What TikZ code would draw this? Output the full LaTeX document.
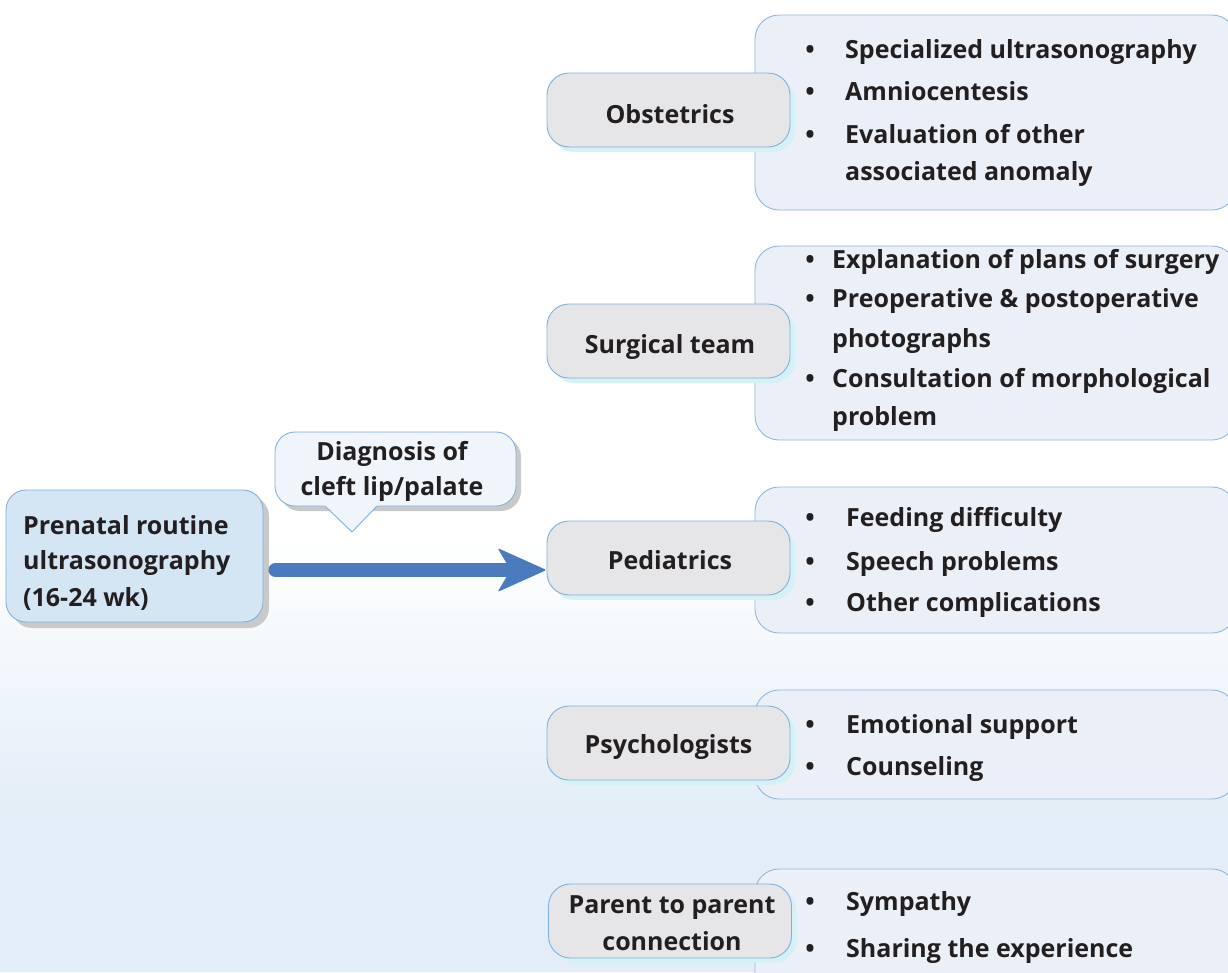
\documentclass[tikz,border=0pt]{standalone}
\usepackage{fontspec}
\setmainfont{Open Sans}
\usetikzlibrary{shadows}
\definecolor{txt}{HTML}{231F20}
\definecolor{bgblue}{HTML}{E2EDF7}
\definecolor{prefill}{HTML}{D4E5F3}
\definecolor{boxborder}{HTML}{7DB2E0}
\definecolor{calfill}{HTML}{EFF5FB}
\definecolor{catfill}{HTML}{E6E6E8}
\definecolor{catshadow}{HTML}{D4F2F5}
\definecolor{detfill}{HTML}{EBF0F8}
\definecolor{detborder}{HTML}{8DB9E3}
\definecolor{grayshadow}{HTML}{C9C9CA}
\definecolor{arrowblue}{HTML}{4A7BBF}
\newcommand\tf{\fontsize{25}{30}\selectfont\bfseries}
\begin{document}
\begin{tikzpicture}[x=1pt,y=-1pt,
  txtline/.style={anchor=base west,inner sep=0pt,text=txt,font=\tf},
  ctrline/.style={anchor=base,inner sep=0pt,text=txt,font=\tf},
  bul/.style={anchor=base,inner sep=0pt,text=txt,font=\tf},
  detbox/.style={draw=detborder,line width=0.9pt,fill=detfill,rounded corners=24pt,
    inner sep=0pt},
  catbox/.style={draw=boxborder,line width=0.9pt,fill=catfill,rounded corners=22pt,
    inner sep=0pt,minimum width=243pt,minimum height=74pt,
    drop shadow={fill=catshadow,opacity=1,shadow xshift=5pt,shadow yshift=-5pt}},
  prebox/.style={draw=boxborder,line width=0.9pt,fill=prefill,rounded corners=20pt,
    inner sep=0pt,minimum width=257pt,minimum height=132pt,
    drop shadow={fill=grayshadow,opacity=1,shadow xshift=6pt,shadow yshift=-6pt}},
  calbox/.style={draw=boxborder,line width=0.9pt,fill=calfill,rounded corners=20pt,
    inner sep=0pt,minimum width=241pt,minimum height=74pt,
    drop shadow={fill=grayshadow,opacity=1,shadow xshift=5pt,shadow yshift=-5pt}},
]
\useasboundingbox (0,0) rectangle (1228,972);
\clip (0,0) rectangle (1228,972);
% background
\fill[white] (0,0) rectangle (1228,540);
\shade[top color=white,bottom color=bgblue] (0,539) rectangle (1228,820);
\fill[bgblue] (0,819) rectangle (1228,972);

% detail boxes
\node[detbox,minimum width=481pt,minimum height=195pt] (dobs) at (995.5,112.5) {};
\node[detbox,minimum width=481pt,minimum height=194pt] (dsur) at (995.5,343) {};
\node[detbox,minimum width=481pt,minimum height=146pt] (dped) at (995.5,560) {};
\node[detbox,minimum width=481pt,minimum height=109pt] (dpsy) at (995.5,744.5) {};
\node[detbox,minimum width=481pt,minimum height=130pt] (dpar) at (995.5,934) {};

% obstetrics list
\node[bul] at (810,58) {•};
\node[txtline] (o1) at (845,58) {Specialized ultrasonography};
\node[bul] at (810,100.5) {•};
\node[txtline] (o2) at (845,100.5) {Amniocentesis};
\node[bul] at (810,143) {•};
\node[txtline] (o3) at (845,143) {Evaluation of other};
\node[txtline] (o4) at (845,180) {associated anomaly};

% surgical list
\node[bul] at (810,268) {•};
\node[txtline] (s1) at (832,268) {Explanation of plans of surgery};
\node[bul] at (810,307) {•};
\node[txtline] (s2) at (832,307) {Preoperative \& postoperative};
\node[txtline] (s3) at (832,347) {photographs};
\node[bul] at (810,387) {•};
\node[txtline] (s4) at (832,387) {Consultation of morphological};
\node[txtline] (s5) at (832,425) {problem};

% pediatrics list
\node[bul] at (810,526) {•};
\node[txtline] (p1) at (846,526) {Feeding difficulty};
\node[bul] at (810,570) {•};
\node[txtline] (p2) at (846,570) {Speech problems};
\node[bul] at (810,611) {•};
\node[txtline] (p3) at (846,611) {Other complications};

% psychologists list
\node[bul] at (810,733) {•};
\node[txtline] (y1) at (846,733) {Emotional support};
\node[bul] at (810,775) {•};
\node[txtline] (y2) at (846,775) {Counseling};

% parent list
\node[bul] at (810,910) {•};
\node[txtline] (r1) at (846,910) {Sympathy};
\node[bul] at (810,957) {•};
\node[txtline] (r2) at (846,957) {Sharing the experience};

% category boxes
\node[catbox] (obs) at (668.5,110) {};
\node[ctrline] at (670,123) {Obstetrics};
\node[catbox] (sur) at (668.5,341) {};
\node[ctrline] at (670,353) {Surgical team};
\node[catbox] (ped) at (668.5,558) {};
\node[ctrline] at (670,569) {Pediatrics};
\node[catbox] (psy) at (668.5,743) {};
\node[ctrline] at (668.5,753) {Psychologists};
\node[catbox] (par) at (670,921) {};
\node[ctrline] at (672,913) {Parent to parent};
\node[ctrline] at (672,950) {connection};

% prenatal box
\node[prebox] (pre) at (134.5,556) {};
\node[txtline] at (23,534) {Prenatal routine};
\node[txtline] at (23,569.5) {ultrasonography};
\node[txtline] at (23,606) {(16-24 wk)};

% callout
\node[calbox] (diag) at (395.5,469) {};
\fill[calfill] (324,505) -- (352,532) -- (378,505) -- cycle;
\draw[boxborder,line width=0.9pt,line join=round] (325,506) -- (352,532) -- (377,506);
\node[ctrline] at (392,460) {Diagnosis of};
\node[ctrline] at (392,495) {cleft lip/palate};

% arrow
\coordinate (tip) at ([shift={(0,12)}]ped.west);
\coordinate (start) at ([shift={(12,14)}]pre.east);
\draw[arrowblue,line width=14pt,line cap=round] (start) -- ([shift={(-38,0)}]tip);
\fill[arrowblue,rounded corners=2pt] (tip) -- ++(-49,-22) -- ++(13,22) -- ++(-13,22) -- cycle;
\end{tikzpicture}
\end{document}
